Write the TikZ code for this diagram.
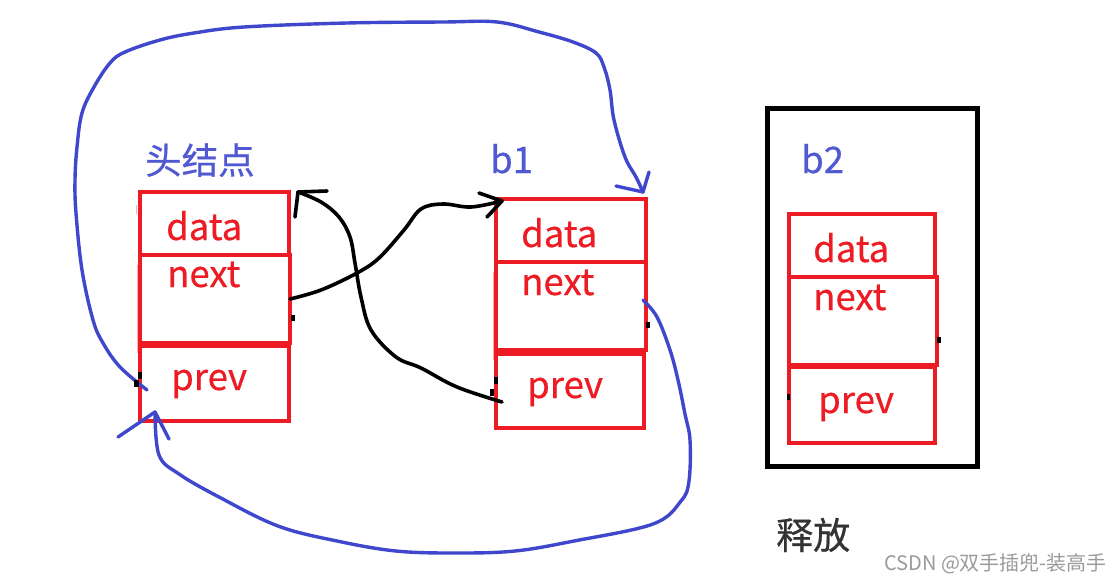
\documentclass[tikz,border=0pt]{standalone}
\usepackage{fontspec}
\setmainfont{Noto Sans CJK SC}
\newfontfamily\labfont{Noto Sans CJK SC}[FakeBold=0.6]
\usetikzlibrary{calc}
\definecolor{pred}{HTML}{ED1C24}
\definecolor{pblue}{HTML}{3F48CC}
\definecolor{tblue}{HTML}{5058D2}
\definecolor{dgray}{HTML}{333333}
\definecolor{wgray}{HTML}{9A9A9A}
\begin{document}
\begin{tikzpicture}[x=1pt,y=-1pt,
  cell/.style={draw=pred,line width=4.3pt,inner sep=0pt,outer sep=0pt,anchor=north west},
  frame/.style={draw=black,line width=5pt,inner sep=0pt,outer sep=0pt,anchor=north west},
  lab/.style={text=pred,font=\labfont\fontsize{36.5}{40}\selectfont,anchor=base west,inner sep=0pt},
  ttl/.style={text=tblue,font=\labfont\fontsize{36.5}{40}\selectfont,anchor=base west,inner sep=0pt},
  bk/.style={draw=black,line width=3.6pt,line cap=round,line join=round},
  bl/.style={draw=pblue,line width=3.4pt,line cap=round,line join=round},
  faint/.style={draw=pred!35,line width=1pt}
]
\fill[white] (0,0) rectangle (1120,582);
\useasboundingbox (0,0) rectangle (1120,582);

% head node
\node[cell,minimum width=149pt,minimum height=63pt] (hdata) at (140,192) {};
\node[cell,minimum width=150pt,minimum height=88pt] (hnext) at (140,255) {};
\node[cell,minimum width=149pt,minimum height=75pt] (hprev) at (140,346) {};
\node[ttl] (htitle) at (145,174) {头结点};
\node[lab] (hdatat) at (166,240) {data};
\node[lab] (hnextt) at (167,287) {next};
\node[lab] (hprevt) at (171,390) {prev};

% b1
\node[cell,minimum width=150pt,minimum height=63pt] (bdata) at (496,199) {};
\node[cell,minimum width=150pt,minimum height=88pt] (bnext) at (496,262) {};
\node[cell,minimum width=148pt,minimum height=74pt] (bprev) at (496,354) {};
\node[ttl] (btitle) at (490,173) {b1};
\node[lab] (bdatat) at (521,247) {data};
\node[lab] (bnextt) at (521,295) {next};
\node[lab] (bprevt) at (527,398) {prev};

% b2
\node[frame,minimum width=210pt,minimum height=358pt] (cframe) at (767,108) {};
\node[cell,minimum width=146pt,minimum height=63pt] (cdata) at (789,214) {};
\node[cell,minimum width=148pt,minimum height=88pt] (cnext) at (789,277) {};
\node[cell,minimum width=146pt,minimum height=76pt] (cprev) at (789,367) {};
\node[ttl] (ctitle) at (801,173) {b2};
\node[lab] (cdatat) at (813,262) {data};
\node[lab] (cnextt) at (813,310) {next};
\node[lab] (cprevt) at (818,413) {prev};

\node[text=dgray,font=\labfont\fontsize{37}{40}\selectfont,anchor=base west,inner sep=0pt] (release) at (776,549) {释放};
\node[text=wgray,font=\fontsize{20}{22}\selectfont,anchor=base west,inner sep=0pt] (wm) at (884,570) {CSDN @双手插兜-装高手};

% faint edge artifacts
\draw[faint] (137,265) -- (137,353);
\draw[faint] (493,272) -- (493,360);
\draw[faint] (136,205) -- (136,214);

% anchors of the connectors
\coordinate (s1) at (hnext.east);
\coordinate (t1) at ($(bdata.north west)+(6,2)$);
\coordinate (s2) at ($(bprev.west)+(6,11)$);
\coordinate (t2) at ($(hdata.north east)+(9,0)$);
\coordinate (s3) at ($(hprev.west)+(7,6.5)$);
\coordinate (t3) at ($(bdata.north east)+(-3,-7)$);
\coordinate (s4) at ($(bnext.east)+(-3,-6)$);
\coordinate (t4) at ($(hprev.south west)+(15,-9)$);

% black: head.next -> b1
\draw[bk] plot[smooth,tension=0.6] coordinates {(s1) (321,290) (357,273) (379,258) (404,230) (421,209) (443,204) (471,207) (t1)};
\draw[bk] (t1) -- ++(-23,-8);
\draw[bk] (t1) -- ++(-15,16);

% black: b1.prev -> head
\draw[bk] plot[smooth,tension=0.6] coordinates {(s2) (457,387) (421,368) (396,357) (371,330) (361,297) (355,263) (350,237) (339,217) (321,202) (t2)};
\draw[bk] (t2) -- ++(29,-1);
\draw[bk] (t2) -- ++(-3,25);

% blue: head.prev -> b1 (over the top)
\draw[bl] plot[smooth,tension=0.6] coordinates {(s3) (120,367) (103,343) (93,320) (82,270) (76,213) (75,180) (77,147) (82,113) (94,87) (110,63) (125,52) (160,40) (194,33) (244,27) (347,23) (443,22) (497,22) (539,32) (573,42) (596,53) (604,67) (610,90) (614,120) (625,157) (636,177) (t3)};
\draw[bl] (t3) -- ++(6,-20);
\draw[bl] (t3) -- ++(-27,-6);

% blue: b1.next -> head (under the bottom)
\draw[bl] plot[smooth,tension=0.6] coordinates {(s4) (657,317) (670,350) (678,380) (685,414) (690,440) (689,481) (681,501) (653,524) (574,541) (515,551) (456,553) (396,551) (337,541) (278,526) (219,497) (179,474) (159,455) (t4)};
\draw[bl] (t4) -- ++(-37,25);
\draw[bl] (t4) -- ++(14,27);

% small black ink marks
\fill (291,315) rectangle (295,321);
\fill (138,372) rectangle (142,379);
\fill (134,380) rectangle (139,387);
\fill (646,322) rectangle (650,328);
\fill (494,377) rectangle (498,384);
\fill (490,389) rectangle (494,396);
\fill (937,337) rectangle (941,343);
\fill (787,394) rectangle (790,400);
\end{tikzpicture}
\end{document}
